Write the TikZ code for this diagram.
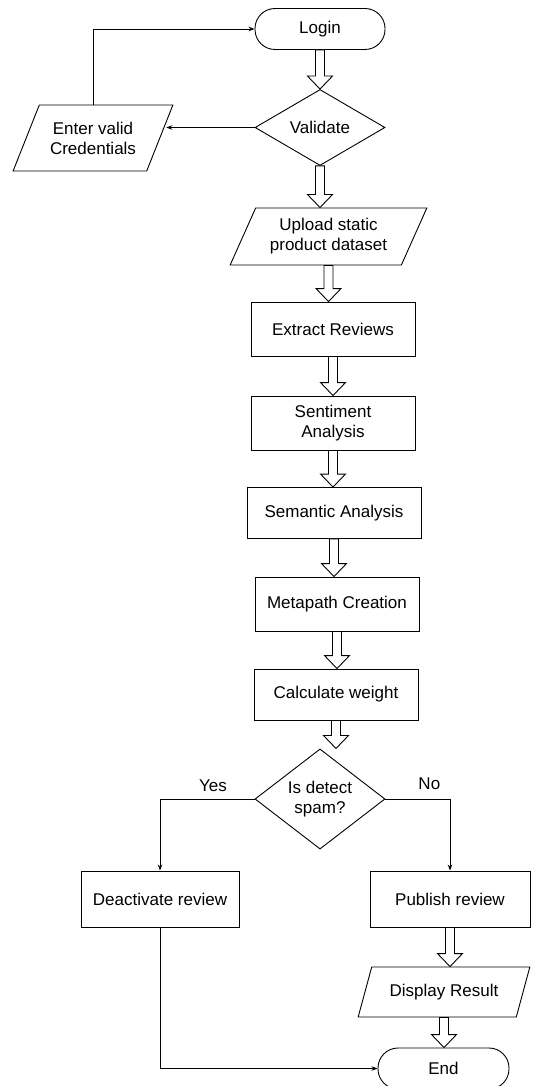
\documentclass[tikz,border=0pt]{standalone}
\usepackage{fontspec}
\setmainfont{Liberation Sans}
\usetikzlibrary{shapes.geometric,arrows.meta,calc}

\tikzset{
  flow/.style={draw, line width=0.9pt, align=center, inner sep=2pt},
  term/.style={flow, rectangle, rounded corners=20pt, minimum width=130, minimum height=41},
  proc/.style={flow, rectangle, minimum width=164, minimum height=54},
  decision/.style={flow, diamond, minimum width=130, minimum height=76, inner sep=0pt},
  io/.style={flow, trapezium, trapezium left angle=62, trapezium right angle=118,
    trapezium stretches=true, minimum height=57},
  link/.style={line width=0.9pt, -{Stealth[length=6pt,width=4.5pt]}},
}

% hollow block arrow from one node down to the next
\newcommand{\hollowarrow}[2]{%
  \draw[line width=0.9pt, fill=white, line join=miter]
    let \p1=(#1.south), \p2=(#1.south |- #2.north) in
    (\x1-4.5pt,\y1) -- (\x1-4.5pt,\y2+13pt) -- (\x1-12.5pt,\y2+13pt) --
    (\x1,\y2) -- (\x1+12.5pt,\y2+13pt) -- (\x1+4.5pt,\y2+13pt) --
    (\x1+4.5pt,\y1) -- cycle;}

\begin{document}
\begin{tikzpicture}[x=1pt, y=-1pt, font=\fontsize{17}{20}\selectfont]
  \useasboundingbox (0,0) rectangle (542,1086);

  \node[term] (login) at (320,29) {Login};
  \node[decision] (validate) at (320,127.5) {Validate};
  \node[io, minimum width=160, minimum height=66, trapezium left angle=59,
    trapezium right angle=121] (cred) at (93,138) {Enter valid\\Credentials};
  \node[io, minimum width=197] (upload) at (328.5,236.5) {Upload static\\product dataset};
  \node[proc] (extract) at (333,329) {Extract Reviews};
  \node[proc] (senti) at (333,423) {Sentiment\\Analysis};
  \node[proc, minimum width=174, minimum height=51] (semantic) at (334,513) {Semantic Analysis};
  \node[proc] (metapath) at (337,604) {Metapath Creation};
  \node[proc, minimum height=51] (calc) at (336,694.5) {Calculate weight};
  \node[decision] (spam) at (320,799) {Is detect\\spam?};
  \node[proc, minimum width=158, minimum height=56] (deact) at (160,899) {Deactivate review};
  \node[proc, minimum width=160, minimum height=56] (publish) at (450,899) {Publish review};
  \node[io, minimum width=172, minimum height=50] (display) at (444,992) {Display Result};
  \node[term, minimum width=131] (end) at (443.5,1068.5) {End};

  \hollowarrow{login}{validate}
  \hollowarrow{validate}{upload}
  \hollowarrow{upload}{extract}
  \hollowarrow{extract}{senti}
  \hollowarrow{senti}{semantic}
  \hollowarrow{semantic}{metapath}
  \hollowarrow{metapath}{calc}
  \hollowarrow{calc}{spam}
  \hollowarrow{publish}{display}
  \hollowarrow{display}{end}

  \draw[link] (cred.north) |- (login.west);
  \draw[link] (validate.west) -- ([xshift=6pt]validate.west -| cred.east);
  \draw[link] (spam.west) -| node[pos=0.22, above=4pt] (yes) {Yes} (deact.north);
  \draw[link] (spam.east) -| node[pos=0.34, above=6pt] (no) {No} (publish.north);
  \draw[link] (deact.south) |- (end.west);
\end{tikzpicture}
\end{document}
